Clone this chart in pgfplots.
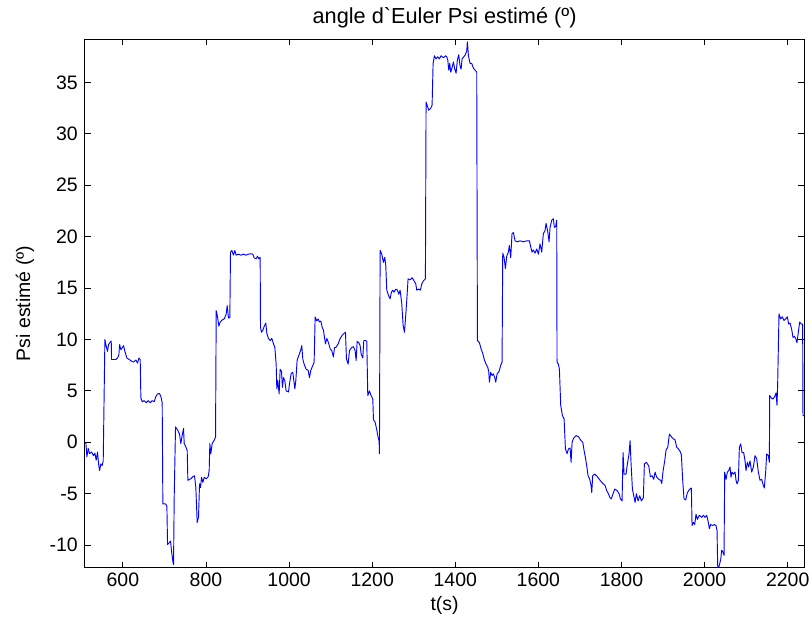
\documentclass[border=0pt]{standalone}
\usepackage{fontspec}
\setmainfont{Liberation Sans}
\usepackage{pgfplots}
\pgfplotsset{compat=1.18}
\newcommand{\plaingrave}{\XeTeXglyph\XeTeXcharglyph"0060\relax}
\begin{document}
\begin{tikzpicture}
\begin{axis}[
  scale only axis, width=539.55pt, height=396.3pt,
  xmin=508.6, xmax=2240, ymin=-12.2, ymax=39.2,
  xtick={600,800,...,2200}, ytick={-10,-5,...,35},
  tick align=inside, major tick length=4.5pt,
  axis line style={line width=0.75pt},
  tick style={line width=0.6pt, black},
  /pgf/number format/assume math mode=true,
  /pgf/number format/1000 sep={},
  ticklabel style={font=\fontsize{14.6pt}{17pt}\selectfont, inner sep=0pt},
  xticklabel style={anchor=center, yshift=-9.2pt},
  yticklabel style={anchor=east, xshift=-5.2pt},
  title={angle d\plaingrave Euler Psi estimé (º)},
  title style={font=\fontsize{16.3pt}{18pt}\selectfont, at={(axis description cs:0.5,1.0252)}, anchor=center, inner sep=0pt},
  xlabel={t(s)},
  xlabel style={font=\fontsize{14.6pt}{17pt}\selectfont, at={(axis description cs:0.5,-0.0706)}, anchor=center, inner sep=0pt},
  ylabel={Psi estimé (º)},
  ylabel style={font=\fontsize{14.6pt}{17pt}\selectfont, at={(axis description cs:-0.0833,0.5)}, anchor=center, inner sep=0pt},
]
\addplot[color=blue, line width=0.7pt, mark=none, line join=round] coordinates {
(508.6,0.0) (511,-0.1) (513.4,-1.4) (516.6,-0.6) (519.8,-1.1) (524.6,-0.95) (529.4,-1.3) (532.6,-1.05) (535.8,-1.75) (539,-0.95) (541.5,-2.1) (543.9,-2.75) (547,-2.1) (550.3,-2.25) (552.7,-1.8) (556.7,10.0) (560,9.35) (563,8.85) (565.5,9.5) (569.5,9.75) (572,9.85) (572.7,8.05) (583,8.05) (587,8.2) (590.4,8.5) (592,9.5) (595.2,9.0) (598.4,9.2) (601.6,9.4) (604.8,8.85) (609.6,8.2) (615.2,8.05) (620.9,7.9) (625.7,7.8) (631.3,8.0) (635.3,7.7) (638.5,8.2) (641.7,8.05) (643.3,4.3) (646.5,3.95) (651.3,4.05) (656.1,3.85) (661,4.05) (665.8,3.85) (670.6,4.05) (675.4,3.95) (679.4,4.45) (683.4,4.7) (688.2,4.75) (691.4,4.45) (694.6,3.85) (696.2,-6.0) (702.7,-6.0) (705.9,-6.2) (707.5,-9.95) (710.7,-9.8) (714.7,-9.6) (717.1,-10.6) (720.3,-11.6) (721.9,-11.9) (723.5,-5.4) (726.7,1.5) (731.5,1.2) (736.3,0.8) (739.5,-0.13) (742.8,0.7) (746,1.35) (747.6,-0.13) (751.6,-0.45) (754.8,-0.8) (756.4,-3.7) (763.6,-3.55) (768.4,-3.35) (772.4,-3.25) (775.6,-4.4) (778.8,-7.8) (782,-7.3) (784.5,-4.05) (786.9,-4.4) (789.3,-3.4) (792.5,-3.9) (795.7,-3.4) (800.5,-3.55) (805.3,-3.35) (807.7,-2.75) (809.3,-0.13) (811.7,-1.1) (814.9,-0.13) (819.7,0.2) (823,0.5) (824.6,12.8) (827.8,12.2) (831,11.3) (834.2,11.7) (839,11.9) (843.8,12.0) (848.6,12.45) (851,13.3) (854.2,12.1) (857.4,12.1) (859,18.5) (862.2,18.66) (866.2,18.2) (869.4,18.66) (872.6,18.2) (878.3,18.3) (883.9,18.2) (890.3,18.3) (896.7,18.2) (902.3,18.3) (907.9,18.34) (912.7,18.3) (915.9,17.95) (920.8,17.85) (924,18.1) (927.2,17.85) (930.4,18.0) (931.2,11.2) (933.6,10.7) (936.8,10.9) (940.8,11.35) (944,11.6) (946.4,10.6) (950.4,10.1) (954.4,9.9) (958.5,10.1) (962.5,9.57) (965.7,9.25) (968.9,7.6) (970.5,5.2) (972.9,6.0) (976.1,4.7) (978.5,7.1) (981.7,6.9) (984.1,5.35) (986.5,6.3) (989.7,6.0) (992.9,5.0) (998.6,4.9) (1001,5.7) (1005,6.7) (1009,6.8) (1011.4,6.0) (1013.8,5.2) (1016.2,6.0) (1019.4,8.0) (1023.4,8.44) (1027.4,8.9) (1030.6,9.4) (1033,8.1) (1036.2,7.6) (1041.1,7.1) (1045.9,7.0) (1049.1,6.3) (1052.3,7.0) (1056.3,7.4) (1060.3,7.8) (1062.7,12.2) (1066.7,11.8) (1069.9,12.0) (1073.1,11.7) (1076.3,11.8) (1079.6,11.2) (1082.8,10.9) (1085.2,10.2) (1087.6,9.57) (1090.8,10.1) (1094.8,9.7) (1098.8,9.1) (1102.8,8.9) (1106.8,8.3) (1109.2,9.2) (1113.2,9.25) (1118,9.57) (1122.9,10.1) (1127.7,10.4) (1132.5,10.6) (1135.7,10.7) (1138.1,8.1) (1142.1,7.6) (1145.3,8.9) (1150.1,9.2) (1155,9.3) (1159,8.9) (1161.4,7.95) (1163.8,9.8) (1167.8,9.7) (1171,9.4) (1173.4,8.6) (1177.4,8.2) (1179.8,9.9) (1184.6,9.9) (1187,9.8) (1189.4,4.54) (1193.4,5.0) (1197.4,4.54) (1201.5,4.2) (1203.1,2.2) (1207.1,1.95) (1211.1,1.2) (1214.3,0.5) (1216.7,0.1) (1217.5,-1.1) (1219.1,18.66) (1223.1,18.3) (1227.1,17.5) (1230.3,18.0) (1232.7,17.2) (1235.1,14.8) (1239.1,14.3) (1243.1,13.95) (1246.3,14.6) (1249.5,14.8) (1252.7,14.6) (1256.8,14.9) (1260.8,14.8) (1264,14.4) (1267.2,14.8) (1271.2,13.5) (1274.4,11.4) (1277.6,10.7) (1280,11.9) (1283.2,13.8) (1286.4,15.9) (1291.2,15.8) (1296,16.0) (1300.9,15.7) (1304.9,15.4) (1307.3,14.8) (1312.1,14.9) (1316.1,14.8) (1319.3,15.4) (1323.3,15.7) (1328.1,15.9) (1329.7,33.1) (1332.9,32.7) (1336.2,32.3) (1341,32.5) (1344.2,32.8) (1346.6,36.85) (1349.8,37.6) (1353.8,37.3) (1357.8,37.5) (1361.8,37.3) (1365.8,37.6) (1371.4,37.4) (1376.3,37.6) (1379.5,37.5) (1381.9,37.2) (1384.3,36.2) (1386.7,36.85) (1389.1,36.0) (1392.3,36.45) (1395.5,37.0) (1398.7,36.3) (1401.9,35.9) (1405.1,37.2) (1408.3,37.7) (1411.5,36.6) (1414,36.3) (1416.4,37.3) (1420.4,37.5) (1424.4,37.7) (1427.6,38.1) (1429.2,38.95) (1431.6,37.6) (1435.6,36.85) (1439.6,36.85) (1443.6,36.4) (1447.6,36.2) (1451.6,36.0) (1453.3,9.9) (1458,9.7) (1462,9.1) (1466,8.66) (1470.1,8.0) (1474.1,7.6) (1478.1,7.3) (1480.5,6.9) (1482.1,5.85) (1485.3,6.8) (1488.5,6.5) (1491.7,6.65) (1494.9,6.3) (1497.3,5.85) (1500.6,6.65) (1505.4,6.9) (1509.4,7.5) (1512.6,7.8) (1514.2,18.4) (1517.4,18.0) (1520.6,16.9) (1523.8,18.1) (1527.8,18.5) (1530.2,19.15) (1533.4,17.95) (1536.6,20.3) (1539.9,20.4) (1543.9,19.6) (1549.5,19.5) (1555.9,19.6) (1564,19.5) (1572,19.6) (1578.4,19.6) (1581.6,19.0) (1584.8,18.5) (1588,18.7) (1592,18.4) (1596,18.8) (1600,18.3) (1604,19.3) (1608,18.5) (1612,20.3) (1616.1,20.6) (1618.5,21.3) (1622.5,20.5) (1625.7,19.5) (1628.1,20.9) (1632.1,21.6) (1636.1,21.75) (1638.5,20.9) (1641.7,21.0) (1644.1,21.6) (1644.9,7.8) (1648.2,7.6) (1650.6,7.1) (1653.8,3.57) (1657.9,2.6) (1661.9,2.27) (1665.1,-0.65) (1669.1,-1.1) (1672.3,-0.65) (1676.3,-0.55) (1678.7,-1.95) (1681.1,0.0) (1685.1,0.42) (1690.7,0.65) (1696.4,0.55) (1702,0.2) (1706.8,0.0) (1710,-0.8) (1713.2,-1.5) (1716.4,-2.3) (1719.6,-3.25) (1723.6,-3.6) (1726.8,-4.2) (1728.4,-4.9) (1730.8,-3.25) (1735.6,-3.1) (1742.1,-3.35) (1748.5,-3.7) (1754.9,-4.0) (1760.5,-4.2) (1764.5,-4.7) (1768.5,-5.0) (1772.5,-5.4) (1775.7,-5.5) (1779.8,-5.0) (1783.8,-4.55) (1789.4,-4.7) (1794.2,-5.0) (1797.4,-5.5) (1801.4,-5.7) (1803.8,-1.0) (1806.2,-3.1) (1811,-3.1) (1814.2,-2.1) (1818.3,-1.1) (1820.7,0.16) (1823.1,-2.1) (1826.3,-4.55) (1829.5,-5.2) (1832.7,-5.85) (1835.9,-5.0) (1839.9,-5.7) (1843.9,-5.2) (1847.9,-5.7) (1852.7,-5.4) (1855.1,-2.1) (1860,-1.95) (1865.6,-2.3) (1869.6,-3.35) (1873.6,-3.25) (1877.6,-3.6) (1880.8,-2.9) (1884.8,-3.4) (1889.6,-3.6) (1894.4,-3.7) (1896.9,-4.0) (1900.1,-2.8) (1904.1,-1.8) (1907.3,-0.75) (1911.3,-0.5) (1915.3,0.8) (1920.9,0.5) (1924.9,0.33) (1928.9,0.24) (1932.9,-0.48) (1936.9,-0.65) (1940.9,-0.87) (1944.1,-1.2) (1947.3,-3.7) (1950.5,-5.5) (1954.6,-5.6) (1958.6,-4.9) (1963.4,-4.6) (1968.2,-4.44) (1969.8,-8.1) (1973,-7.8) (1976.2,-8.0) (1979.4,-7.0) (1982.6,-7.5) (1987.4,-7.1) (1993.1,-7.3) (1997.1,-7.1) (2001.1,-7.3) (2005.1,-7.1) (2009.1,-7.8) (2011.5,-8.4) (2014.7,-8.0) (2019.5,-8.1) (2023.5,-8.0) (2027.5,-8.1) (2030,-8.6) (2031.5,-12.0) (2034,-12.2) (2036.4,-11.8) (2038.8,-11.4) (2041.2,-10.5) (2044.4,-10.7) (2046.8,-11.0) (2048.4,-2.9) (2051.6,-3.6) (2054.8,-2.9) (2058,-2.75) (2061.2,-2.4) (2063.6,-3.4) (2066,-2.9) (2069.2,-3.1) (2073.3,-2.9) (2075.7,-3.7) (2078.1,-4.05) (2081.3,-3.7) (2083.7,-0.48) (2086.9,-0.16) (2090.1,-1.0) (2094.1,-1.0) (2097.3,-1.8) (2099.7,-2.75) (2102.9,-1.95) (2106.1,-2.4) (2109.3,-1.8) (2113.4,-2.9) (2117.4,-2.4) (2121.4,-1.3) (2125.4,-1.6) (2129.4,-2.9) (2133.4,-3.7) (2137.4,-3.6) (2141.4,-4.2) (2143.8,-4.44) (2147,-2.9) (2149.4,-1.13) (2153.5,-1.3) (2155.9,-1.95) (2156.7,4.55) (2160.7,4.3) (2164.7,4.2) (2168.7,4.45) (2171.9,4.8) (2174.3,3.6) (2175.9,5.7) (2179.1,12.5) (2183.1,12.0) (2187.1,12.2) (2191.1,11.85) (2195.2,12.0) (2199.2,12.2) (2202.4,11.5) (2205.6,11.6) (2209.6,11.0) (2212.8,10.2) (2216,10.3) (2219.2,10.1) (2222.4,9.7) (2225.6,10.7) (2228.8,11.7) (2232.8,11.5) (2236,11.5) (2236.8,2.6) (2240,2.6)
};
\end{axis}
\pgfresetboundingbox
\path[use as bounding box] ([xshift=-63.68pt,yshift=-42.98pt]current axis.south west) rectangle ([xshift=5.78pt,yshift=29.48pt]current axis.north east);
\end{tikzpicture}
\end{document}
